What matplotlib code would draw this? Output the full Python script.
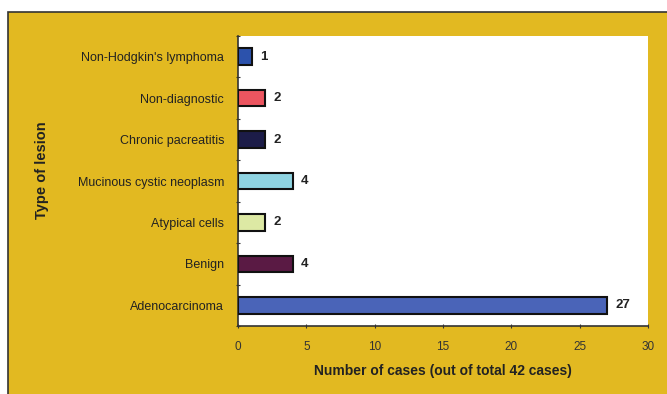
import matplotlib.pyplot as plt
from matplotlib.patches import Rectangle

plt.rcParams["font.family"] = ["Liberation Sans", "DejaVu Sans"]

categories = ["Adenocarcinoma", "Benign", "Atypical cells", "Mucinous cystic neoplasm",
              "Chronic pacreatitis", "Non-diagnostic", "Non-Hodgkin's lymphoma"]
cases = [27, 4, 2, 4, 2, 2, 1]
colors = ["#4a64b8", "#5a1a44", "#dde9a4", "#8fd4e2", "#1c1c48", "#ec5560", "#2c52ac"]
xticks = [0, 5, 10, 15, 20, 25, 30]

fig = plt.figure(figsize=(6.67, 3.94), dpi=100)
fig.patch.set_facecolor("white")
# yellow panel with a dark frame (right/bottom edges off canvas)
fig.patches.append(Rectangle((8 / 667, -0.1), 1.1, 1.1 - 12 / 394, transform=fig.transFigure,
                             facecolor="#e2b921", edgecolor="#333333", linewidth=1.2, zorder=-10))

ax = fig.add_axes([238 / 667, 1 - 326 / 394, 410 / 667, 290 / 394])
ax.set_zorder(5)
ax.set_facecolor("white")
ypos = range(len(categories))
ax.barh(ypos, cases, height=0.4, color=colors, edgecolor="#111111", linewidth=1.5, zorder=3)
for y, v in zip(ypos, cases):
    ax.text(v + 0.6, y, str(v), va="center", ha="left", fontsize=9.5, fontweight="bold",
            color="#222222")

ax.set_xlim(0, 30)
ax.set_ylim(-0.5, 6.5)
ax.set_xticks(xticks)
ax.set_yticks([i + 0.5 for i in range(-1, 7)], minor=False)
ax.set_yticklabels([])
ax.set_yticks(list(ypos), minor=True)
ax.set_yticklabels(categories, minor=True, fontsize=9, color="#222222")
ax.tick_params(axis="y", which="minor", length=0, pad=10)
ax.tick_params(axis="y", which="major", length=3, direction="inout", color="#333333")
ax.tick_params(axis="x", length=3, direction="inout", labelsize=8.5, color="#333333",
               labelcolor="#333333", pad=9)
for s in ["top", "right"]:
    ax.spines[s].set_visible(False)
ax.spines["left"].set_color("#333333")
ax.spines["bottom"].set_color("#333333")
ax.spines["left"].set_linewidth(1.2)
ax.spines["bottom"].set_linewidth(1.2)

ax.set_xlabel("Number of cases (out of total 42 cases)", fontsize=10, fontweight="bold",
              color="#222222", labelpad=8)
fig.text(42 / 667, 1 - 170 / 394, "Type of lesion", rotation=90, va="center", ha="center",
         fontsize=10.5, fontweight="bold", color="#222222")

plt.savefig("out.png", dpi=100)
